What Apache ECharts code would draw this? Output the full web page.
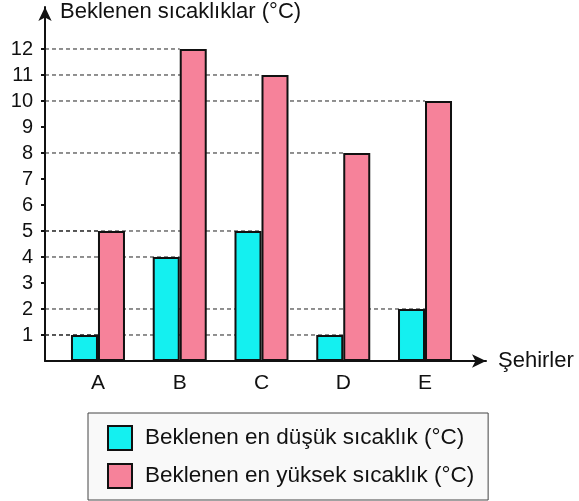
<!DOCTYPE html>
<html>
<head>
<meta charset="utf-8">
<script src="https://cdn.jsdelivr.net/npm/echarts@6/dist/echarts.min.js"></script>
<style>
  html, body { margin: 0; padding: 0; background: #fff; }
  #chart { width: 579px; height: 501px; }
</style>
</head>
<body>
<div id="chart"></div>
<script>
// şehirler ve beklenen sıcaklıklar
const cities = ["A", "B", "C", "D", "E"];
const lowTemps = [1, 4, 5, 1, 2];
const highTemps = [5, 12, 11, 8, 10];
const yTicks = [1, 2, 3, 4, 5, 6, 7, 8, 9, 10, 11, 12];

const lowName = "Beklenen en düşük sıcaklık (°C)";
const highName = "Beklenen en yüksek sıcaklık (°C)";

const FONT = "Liberation Sans, Arial, sans-serif";
// x ekseni değer ekseni: şehir i -> i+1
const X_MIN = 0.352;
const X_MAX = 5.746;

/**
 * eksenden çubuğun tepesine kesikli çizgiler
 */
function buildGuides() {
  let pts = [];
  cities.forEach((c, i) => {
    [lowTemps[i], highTemps[i]].forEach((v) => {
      pts.push([X_MIN, v]);
      pts.push([i + 1, v]);
      pts.push("-");
    });
  });
  return pts;
}

let myChart = echarts.init(document.getElementById("chart"));

let option = {
  backgroundColor: "#ffffff",
  animation: false,
  textStyle: { fontFamily: FONT },
  grid: {
    left: 45,
    right: 93,
    top: 7,
    bottom: 140,
  },
  legend: {
    orient: "vertical",
    left: 88,
    top: 413,
    padding: [12, 14, 11, 19],
    itemWidth: 24,
    itemHeight: 24,
    itemGap: 12,
    backgroundColor: "#f9f9f9",
    borderColor: "#444",
    borderWidth: 1,
    borderRadius: 0,
    icon: "rect",
    textStyle: {
      fontFamily: FONT,
      fontSize: 22.5,
      color: "#111",
      padding: [0, 0, 0, 8],
    },
    data: [lowName, highName],
  },
  xAxis: {
    type: "value",
    min: X_MIN,
    max: X_MAX,
    splitLine: { show: false },
    axisTick: { show: false },
    axisLine: {
      show: true,
      symbol: ["none", "arrow"],
      symbolSize: [10, 14],
      lineStyle: { color: "#111", width: 2 },
    },
    axisLabel: {
      customValues: [1, 2, 3, 4, 5],
      formatter: (v) => cities[Math.round(v) - 1] || "",
      fontFamily: FONT,
      fontSize: 21,
      color: "#111",
      margin: 12,
    },
    name: "Şehirler",
    nameLocation: "end",
    nameGap: 12,
    nameTextStyle: {
      fontFamily: FONT,
      fontSize: 22,
      color: "#111",
      align: "left",
      verticalAlign: "middle",
    },
  },
  yAxis: {
    type: "value",
    min: 0,
    max: 13.615,
    interval: 1,
    splitLine: { show: false },
    axisLine: {
      show: true,
      symbol: ["none", "arrow"],
      symbolSize: [10, 14],
      lineStyle: { color: "#111", width: 2 },
    },
    axisTick: {
      show: true,
      customValues: yTicks,
      length: 4,
      lineStyle: { color: "#111", width: 2 },
    },
    axisLabel: {
      customValues: yTicks,
      fontFamily: FONT,
      fontSize: 20,
      color: "#111",
      margin: 12,
    },
    name: "Beklenen sıcaklıklar (°C)",
    nameLocation: "end",
    nameGap: -5,
    nameTextStyle: {
      fontFamily: FONT,
      fontSize: 22,
      color: "#111",
      align: "left",
      verticalAlign: "middle",
      padding: [0, 0, 0, 15],
    },
  },
  series: [
    {
      name: "guides",
      type: "line",
      z: 1,
      silent: true,
      symbol: "none",
      connectNulls: false,
      lineStyle: { color: "#222", width: 1, type: [4, 3] },
      data: buildGuides(),
    },
    {
      name: lowName,
      type: "bar",
      z: 3,
      barWidth: 27,
      barGap: "0%",
      itemStyle: { color: "#14f0f0", borderColor: "#111", borderWidth: 2 },
      data: lowTemps.map((v, i) => [i + 1, v]),
    },
    {
      name: highName,
      type: "bar",
      z: 3,
      barWidth: 27,
      barGap: "0%",
      itemStyle: { color: "#f6829a", borderColor: "#111", borderWidth: 2 },
      data: highTemps.map((v, i) => [i + 1, v]),
    },
  ],
};

option && myChart.setOption(option);
</script>
</body>
</html>
